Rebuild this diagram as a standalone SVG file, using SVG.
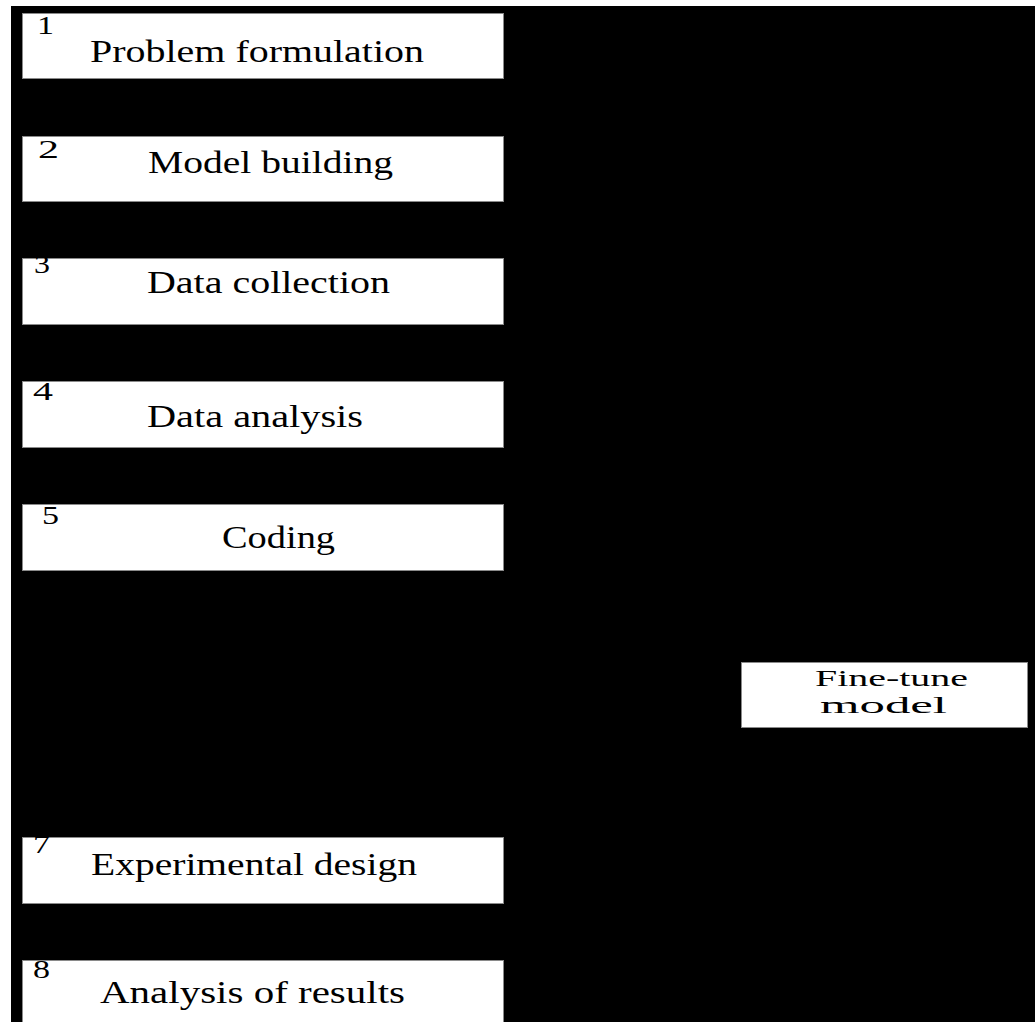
<svg xmlns="http://www.w3.org/2000/svg" width="1035" height="1022" viewBox="0 0 1035 1022">
  <style>
    .box { fill: #ffffff; stroke: #8a8a8a; stroke-width: 1; }
    .lbl { font-family: "Liberation Serif", "Times New Roman", serif; font-size: 32px; fill: #000000; }
    .num { font-family: "Liberation Serif", "Times New Roman", serif; font-size: 26px; fill: #000000; }
    .small { font-family: "Liberation Serif", "Times New Roman", serif; font-size: 23px; fill: #000000; }
  </style>

  <!-- page and dark canvas -->
  <rect x="0" y="0" width="1035" height="1022" fill="#ffffff"/>
  <rect x="11" y="6" width="1024" height="1016" fill="#000000"/>

  <g id="connectors"/>

  <g id="step1">
    <rect class="box" x="22.5" y="13.5" width="481" height="65"/>
    <text class="num" x="37" y="34" textLength="17" lengthAdjust="spacingAndGlyphs">1</text>
    <text class="lbl" x="90" y="62" textLength="334" lengthAdjust="spacingAndGlyphs">Problem formulation</text>
  </g>

  <g id="step2">
    <rect class="box" x="22.5" y="136.5" width="481" height="65"/>
    <text class="num" x="38" y="158" textLength="21" lengthAdjust="spacingAndGlyphs">2</text>
    <text class="lbl" x="148" y="173" textLength="245" lengthAdjust="spacingAndGlyphs">Model building</text>
  </g>

  <g id="step3">
    <rect class="box" x="22.5" y="258.5" width="481" height="66"/>
    <text class="num" x="34" y="273" textLength="16" lengthAdjust="spacingAndGlyphs">3</text>
    <text class="lbl" x="147" y="293" textLength="243" lengthAdjust="spacingAndGlyphs">Data collection</text>
  </g>

  <g id="step4">
    <rect class="box" x="22.5" y="381.5" width="481" height="66"/>
    <text class="num" x="33" y="400" textLength="20" lengthAdjust="spacingAndGlyphs">4</text>
    <text class="lbl" x="147" y="427" textLength="216" lengthAdjust="spacingAndGlyphs">Data analysis</text>
  </g>

  <g id="step5">
    <rect class="box" x="22.5" y="504.5" width="481" height="66"/>
    <text class="num" x="42" y="524" textLength="17" lengthAdjust="spacingAndGlyphs">5</text>
    <text class="lbl" x="222" y="548" textLength="113" lengthAdjust="spacingAndGlyphs">Coding</text>
  </g>

  <g id="step7">
    <rect class="box" x="22.5" y="837.5" width="481" height="66"/>
    <text class="num" x="33" y="853" textLength="17" lengthAdjust="spacingAndGlyphs">7</text>
    <text class="lbl" x="91" y="875" textLength="326" lengthAdjust="spacingAndGlyphs">Experimental design</text>
  </g>

  <g id="step8">
    <rect class="box" x="22.5" y="960.5" width="481" height="70"/>
    <text class="num" x="33" y="978" textLength="17" lengthAdjust="spacingAndGlyphs">8</text>
    <text class="lbl" x="100" y="1003" textLength="305" lengthAdjust="spacingAndGlyphs">Analysis of results</text>
  </g>

  <g id="fine-tune">
    <rect class="box" x="741.5" y="662.5" width="286" height="65"/>
    <text class="small" x="815" y="686" textLength="153" lengthAdjust="spacingAndGlyphs">Fine-tune</text>
    <text class="small" x="820" y="713" textLength="127" lengthAdjust="spacingAndGlyphs">model</text>
  </g>
</svg>
